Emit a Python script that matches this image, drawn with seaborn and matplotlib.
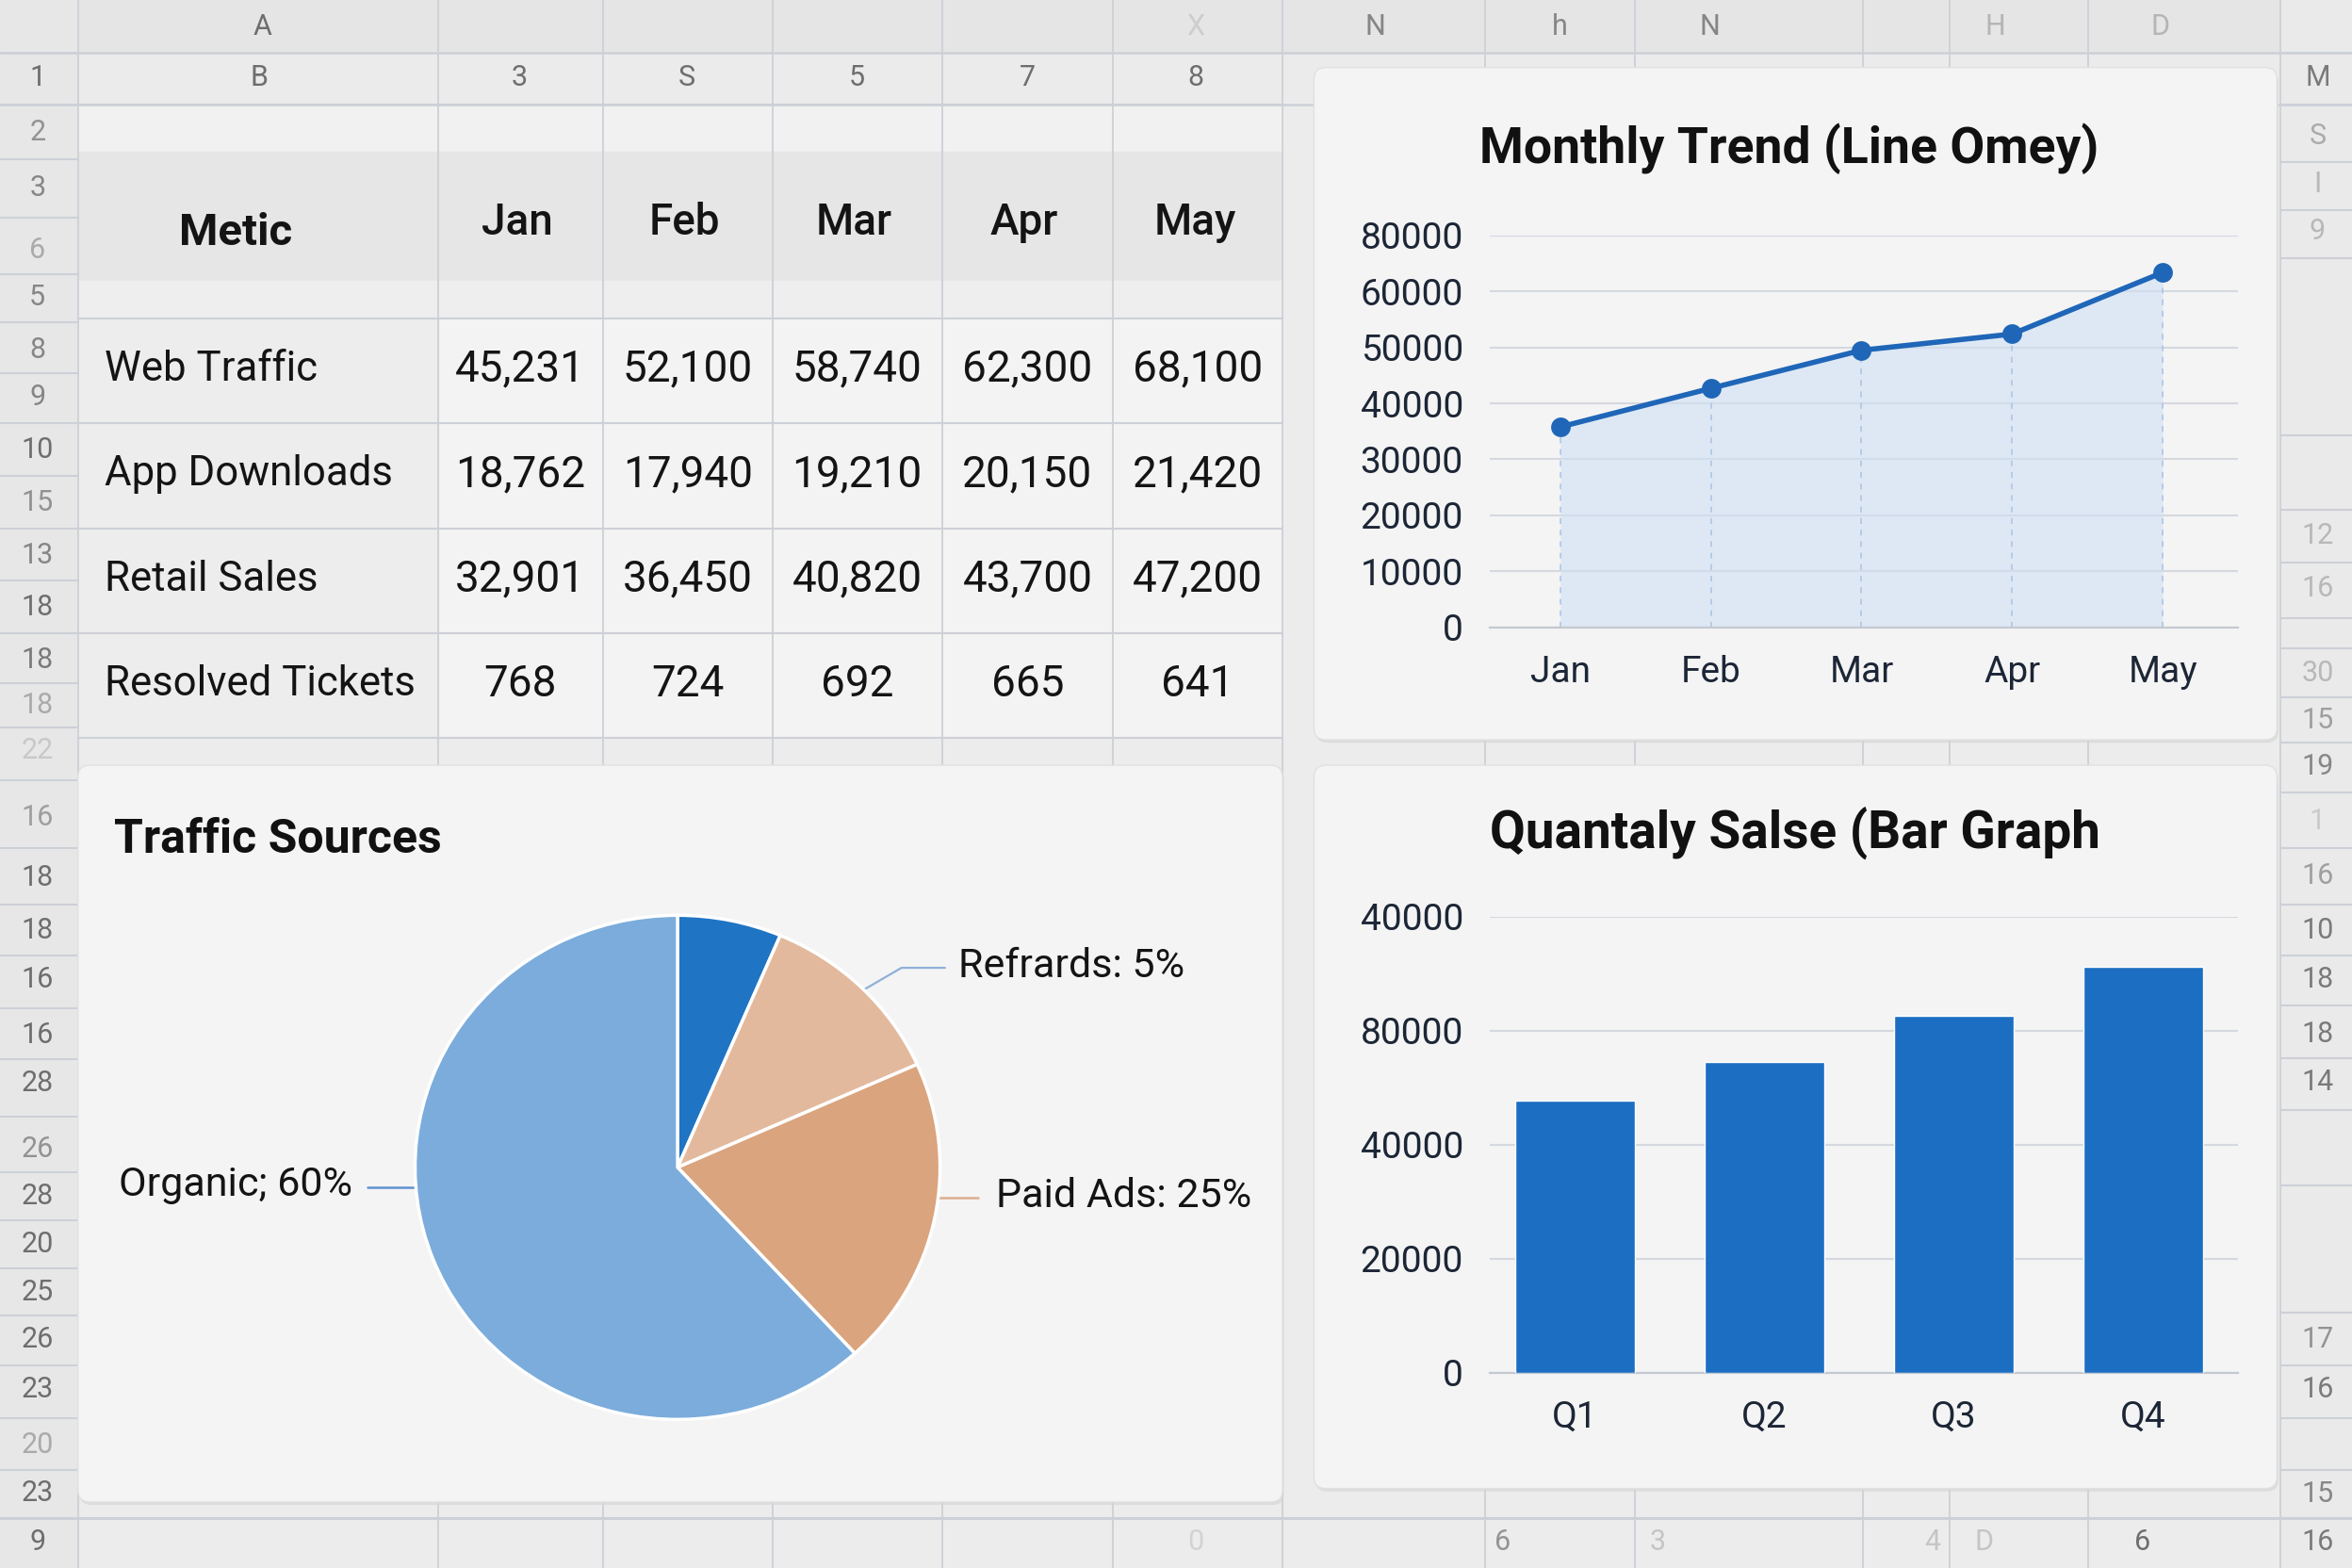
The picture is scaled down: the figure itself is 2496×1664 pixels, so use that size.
import numpy as np
import pandas as pd
import matplotlib
matplotlib.use("Agg")
import matplotlib.pyplot as plt
import seaborn as sns
from matplotlib.patches import FancyBboxPatch, Rectangle

# ---------------- data ----------------
months = ["Jan", "Feb", "Mar", "Apr", "May"]
metrics = ["Web Traffic", "App Downloads", "Retail Sales", "Resolved Tickets"]
web_traffic = ["45,231", "52,100", "58,740", "62,300", "68,100"]
app_downloads = ["18,762", "17,940", "19,210", "20,150", "21,420"]
retail_sales = ["32,901", "36,450", "40,820", "43,700", "47,200"]
resolved_tickets = ["768", "724", "692", "665", "641"]
table_header = "Metic"

trend_values = [35800, 42700, 49500, 52400, 63400]
trend_ticks = [0, 10000, 20000, 30000, 40000, 50000, 60000, 70000]
trend_tick_labels = ["0", "10000", "20000", "30000", "40000", "50000", "60000", "80000"]

pie_values = [6.4, 11.9, 19.9, 61.8]
pie_colors = ["#1f74c4", "#e3b99d", "#daa47e", "#7bacdc"]
pie_label_refer = "Refrards: 5%"
pie_label_paid = "Paid Ads: 25%"
pie_label_organic = "Organic; 60%"

quarters = ["Q1", "Q2", "Q3", "Q4"]
quarter_sales = [47700, 54500, 62700, 71300]
bar_ticks = [0, 20000, 40000, 60000, 80000]
bar_tick_labels = ["0", "20000", "40000", "80000", "40000"]

title_trend = "Monthly Trend (Line Omey)"
title_pie = "Traffic Sources"
title_bar = "Quantaly Salse (Bar Graph"

# spreadsheet decoration labels
left_row_labels = ["1", "2", "3", "6", "5", "8", "9", "10", "15", "13", "18", "18", "18", "22",
                   "16", "18", "18", "16", "16", "28", "26", "28", "20", "25", "26", "23", "20", "23", "9"]
right_row_labels = ["M", "S", "I", "9", "12", "16", "30", "15", "19", "1", "16", "10", "18", "18",
                    "14", "17", "16", "15", "16"]
top_col_labels = ["A", "X", "N", "h", "N", "H", "D"]
second_row_labels = ["B", "3", "S", "5", "7", "8"]
bottom_labels = ["0", "6", "3", "4", "D", "6"]

# ---------------- layout (reference units 1568 x 1045) ----------------
W, H = 1568, 1045
left_row_y = [52, 88, 125, 167, 198, 233, 265, 300, 335, 370, 405, 440, 470, 500, 545, 585, 620,
              653, 690, 722, 766, 797, 829, 861, 893, 926, 963, 995, 1028]
left_row_alpha = [1, .7, .8, .5, .8, .8, .8, 1, .7, .8, 1, .9, .5, .25, .6, 1, 1, 1, 1, 1, .7, 1,
                  1, 1, 1, 1, .5, 1, 1]
left_bounds = [35, 70, 106, 145, 183, 215, 249, 282, 317, 352, 387, 422, 455, 485, 520, 565, 603,
               637, 672, 706, 744, 781, 813, 845, 877, 910, 945, 980, 1012]
right_row_y = [52, 91, 123, 154, 357, 392, 449, 480, 511, 547, 584, 620, 653, 689, 721, 893, 926,
               996, 1028]
right_row_alpha = [.9, .5, .4, .4, .4, .4, .4, .6, .8, .25, .6, .9, .9, .9, .9, .7, .9, .8, .9]
right_bounds = [35, 70, 108, 140, 172, 290, 340, 375, 412, 432, 465, 495, 528, 565, 603, 637, 670,
                705, 740, 790, 875, 910, 945, 980, 1012]
top_col_x = [175, 797, 917, 1040, 1140, 1330, 1440]
top_col_alpha = [1, .2, .8, .8, .8, .4, .4]
second_row_x = [173, 346, 458, 571, 685, 797]
bottom_x = [797, 1002, 1105, 1288, 1323, 1428]
bottom_alpha = [.2, .7, .3, .3, .3, 1]
vlines_x = [52, 292, 402, 515, 628, 742, 855, 990, 1090, 1242, 1300, 1392, 1520]
table_cols = [52, 292, 402, 515, 628, 742, 855]
table_rows = [212, 282, 352, 422, 492]

sns.set_theme(style="white")
plt.rcParams["font.family"] = ["Roboto", "DejaVu Sans"]

fig = plt.figure(figsize=(24.96, 16.64), dpi=100)
fig.patch.set_facecolor("#ececec")
bg = fig.add_axes([0, 0, 1, 1])
bg.set_xlim(0, W)
bg.set_ylim(H, 0)
bg.axis("off")
bg.set_zorder(0)


def frac(x0, y0, x1, y1):
    return [x0 / W, 1 - y1 / H, (x1 - x0) / W, (y1 - y0) / H]


gl = "#cdd0d7"
# header rows and left column shading
bg.add_patch(Rectangle((0, 0), W, 35, color="#e5e5e5", zorder=0))
bg.add_patch(Rectangle((0, 35), W, 35, color="#ebebeb", zorder=0))
bg.add_patch(Rectangle((0, 0), 52, H, color="#e7e7e7", zorder=0))
bg.add_patch(Rectangle((1520, 0), 48, H, color="#eaeaea", zorder=0))
# table shading
bg.add_patch(Rectangle((52, 70), 803, 31, color="#f1f1f1", zorder=0.5))
bg.add_patch(Rectangle((52, 101), 803, 86, color="#e6e6e6", zorder=0.5))
bg.add_patch(Rectangle((52, 187), 803, 25, color="#eeeeee", zorder=0.5))
bg.add_patch(Rectangle((52, 212), 803, 280, color="#f3f3f3", zorder=0.5))
bg.add_patch(Rectangle((52, 212), 240, 280, color="#ededed", zorder=0.6))

# grid lines
for x in vlines_x:
    bg.plot([x, x], [0, H], color=gl, lw=1.3, zorder=1)
for y in [35, 70]:
    bg.plot([0, W], [y, y], color=gl, lw=1.8, zorder=1)
bg.plot([0, W], [1012, 1012], color=gl, lw=2.2, zorder=1)
for y in left_bounds:
    bg.plot([0, 52], [y, y], color=gl, lw=1.5, zorder=1)
for y in right_bounds:
    bg.plot([1520, W], [y, y], color=gl, lw=1.5, zorder=1)
for y in table_rows:
    bg.plot([52, 855], [y, y], color=gl, lw=1.5, zorder=1)
bg.plot([52, 855], [70, 70], color=gl, lw=1.5, zorder=1)

# sheet labels
lbl_color = "#6e6e6e"
for t, y, a in zip(left_row_labels, left_row_y, left_row_alpha):
    bg.text(25, y, t, ha="center", va="center", fontsize=22, color=lbl_color, alpha=a, zorder=2)
for t, y, a in zip(right_row_labels, right_row_y, right_row_alpha):
    bg.text(1545, y, t, ha="center", va="center", fontsize=22, color=lbl_color, alpha=a, zorder=2)
for t, x, a in zip(top_col_labels, top_col_x, top_col_alpha):
    bg.text(x, 18, t, ha="center", va="center", fontsize=22, color=lbl_color, alpha=a, zorder=2)
for t, x in zip(second_row_labels, second_row_x):
    bg.text(x, 52, t, ha="center", va="center", fontsize=22, color=lbl_color, zorder=2)
for t, x, a in zip(bottom_labels, bottom_x, bottom_alpha):
    bg.text(x, 1028, t, ha="center", va="center", fontsize=22, color=lbl_color, alpha=a, zorder=2)

# table text
tc = "#141414"
col_centers = [(table_cols[i] + table_cols[i + 1]) / 2 for i in range(1, 6)]
bg.text(157, 155, table_header, ha="center", va="center", fontsize=34, fontweight="bold",
        color=tc, zorder=3)
for m, cx in zip(months, col_centers):
    bg.text(cx - 2, 148, m, ha="center", va="center", fontsize=33, fontweight="medium",
            color=tc, zorder=3)
rows = [web_traffic, app_downloads, retail_sales, resolved_tickets]
row_y = [246, 316, 386, 456]
for name, vals, y in zip(metrics, rows, row_y):
    bg.text(70, y, name, ha="left", va="center", fontsize=31.5, color=tc, zorder=3)
    for v, cx in zip(vals, col_centers):
        bg.text(cx, y, v, ha="center", va="center", fontsize=33, color=tc, zorder=3)


# cards
def card(x0, y0, x1, y1):
    sh = FancyBboxPatch((x0 + 1, y0 + 2), x1 - x0, y1 - y0,
                        boxstyle="round,pad=0,rounding_size=8",
                        facecolor="#d6d6d6", edgecolor="none", alpha=0.7, zorder=4)
    c = FancyBboxPatch((x0, y0), x1 - x0, y1 - y0,
                       boxstyle="round,pad=0,rounding_size=8",
                       facecolor="#f4f4f4", edgecolor="#e1e1e1", lw=1, zorder=5)
    bg.add_patch(sh)
    bg.add_patch(c)


card(876, 45, 1518, 493)
card(52, 510, 855, 1001)
card(876, 510, 1518, 992)

title_kw = dict(fontweight="bold", color="#111111", zorder=6, va="center")
bg.text(1193, 99, title_trend, ha="center", fontsize=38.5, **title_kw)
bg.text(1197, 555, title_bar, ha="center", fontsize=39.5, **title_kw)
bg.text(76, 560, title_pie, ha="left", fontsize=36, **title_kw)

tick_color = "#1c2636"
grid_color = "#d5d8df"
axis_color = "#c4c8d0"

# ---------------- line chart ----------------
ax1 = fig.add_axes(frac(993, 157, 1492, 418))
ax1.set_zorder(5)
ax1.patch.set_alpha(0)
xpos = np.arange(len(months))
ax1.fill_between(xpos, trend_values, 0, color="#cfe0f4", alpha=0.6, lw=0, zorder=1)
ax1.vlines(xpos, 0, trend_values, colors="#a9c3e3", linestyles=(0, (4, 4)), lw=1.1, zorder=1.5)
sns.lineplot(x=xpos, y=trend_values, ax=ax1, color="#1f66b8", lw=4, marker="o",
             markersize=15, markeredgewidth=0, sort=False, zorder=3, clip_on=False)
ax1.set_xticks(xpos)
ax1.set_xticklabels(months)
ax1.set_xticks(xpos + 0.5, minor=True)
ax1.set_xlim(-0.47, 4.5)
ax1.set_ylim(0, 70000)
ax1.set_yticks(trend_ticks)
ax1.set_yticklabels(trend_tick_labels)
ax1.yaxis.grid(True, color=grid_color, lw=1.5)
ax1.set_axisbelow(True)
for s in ["top", "right", "left"]:
    ax1.spines[s].set_visible(False)
ax1.spines["bottom"].set_color(axis_color)
ax1.spines["bottom"].set_linewidth(1.6)
ax1.tick_params(axis="y", length=0, pad=20, labelsize=28, labelcolor=tick_color)
ax1.tick_params(axis="x", which="major", length=0, pad=21, labelsize=28, labelcolor=tick_color)
ax1.tick_params(axis="x", which="minor", length=6, width=1.3, color=axis_color)
ax1.set_xlabel("")
ax1.set_ylabel("")

# ---------------- bar chart ----------------
ax2 = fig.add_axes(frac(993, 611, 1492, 915))
ax2.set_zorder(5)
ax2.patch.set_alpha(0)
bar_df = pd.DataFrame({"quarter": quarters, "sales": quarter_sales})
sns.barplot(data=bar_df, x="quarter", y="sales", ax=ax2, color="#1b6ec2", saturation=1,
            width=0.63, errorbar=None, zorder=3)
ax2.set_xlim(-0.45, 3.5)
ax2.set_ylim(0, 80000)
ax2.set_yticks(bar_ticks)
ax2.set_yticklabels(bar_tick_labels)
ax2.set_xticks(np.arange(len(quarters)) + 0.5, minor=True)
ax2.yaxis.grid(True, color=grid_color, lw=1.5)
ax2.set_axisbelow(True)
for s in ["top", "right", "left"]:
    ax2.spines[s].set_visible(False)
ax2.spines["bottom"].set_color(axis_color)
ax2.spines["bottom"].set_linewidth(1.6)
ax2.tick_params(axis="y", length=0, pad=20, labelsize=28, labelcolor=tick_color)
ax2.tick_params(axis="x", which="major", length=0, pad=21, labelsize=28, labelcolor=tick_color)
ax2.tick_params(axis="x", which="minor", length=6, width=1.3, color=axis_color)
ax2.set_xlabel("")
ax2.set_ylabel("")

# ---------------- pie chart ----------------
pcx, pcy, prx, pry = 451.7, 778, 175, 168
ax3 = fig.add_axes(frac(pcx - prx, pcy - pry, pcx + prx, pcy + pry))
ax3.set_zorder(5)
ax3.patch.set_alpha(0)
wedges, _ = ax3.pie(pie_values, colors=pie_colors, startangle=90, counterclock=False,
                    wedgeprops=dict(edgecolor="white", linewidth=2.5))
ax3.set_aspect("auto")
ax3.set_xlim(-1, 1)
ax3.set_ylim(-1, 1)
ax3.axis("off")

lab_kw = dict(fontsize=31, color="#141414", va="center", zorder=7)
# Refrards label with elbow leader into the light peach wedge
w = wedges[1]
mid = np.deg2rad((w.theta1 + w.theta2) / 2)
ax_pt = (pcx + 0.95 * prx * np.cos(mid), pcy - 0.95 * pry * np.sin(mid))
tx, ty = 639, 644
bg.plot([ax_pt[0], tx - 38, tx - 9], [ax_pt[1], ty + 1, ty + 1], color="#8fb0d8", lw=1.6, zorder=7)
bg.text(tx, ty, pie_label_refer, ha="left", **lab_kw)
# Paid Ads label
tx, ty = 664, 797
bg.plot([pcx + 0.92 * prx, tx - 12], [ty + 1, ty + 1], color="#dcae90", lw=1.8, zorder=7)
bg.text(tx, ty, pie_label_paid, ha="left", **lab_kw)
# Organic label
tx, ty = 235, 790
bg.plot([tx + 10, pcx - 0.886 * prx], [ty + 1, ty + 1], color="#5f93d0", lw=1.8, zorder=7)
bg.text(tx, ty, pie_label_organic, ha="right", **lab_kw)

fig.savefig("out.png", dpi=100, facecolor=fig.get_facecolor())
